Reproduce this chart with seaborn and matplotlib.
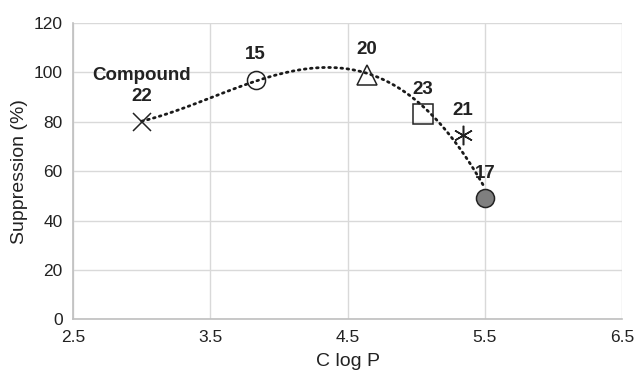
import matplotlib
matplotlib.use("Agg")
import matplotlib.pyplot as plt
import pandas as pd
import seaborn as sns

compounds = ["22", "15", "20", "23", "21", "17"]
clogp = [3.0, 3.83, 4.64, 5.05, 5.34, 5.50]
suppression = [80, 97, 99, 83, 74.5, 49]
labels = ["Compound\n22", "15", "20", "23", "21", "17"]

markers = ["x", "o", "^", "s", (6, 2, 0), "o"]
sizes = [13, 13, 15, 14, 14, 13]
faces = ["none", "none", "none", "none", "none", "#7f7f7f"]

x_ticks = [2.5, 3.5, 4.5, 5.5, 6.5]
y_ticks = [0, 20, 40, 60, 80, 100, 120]

df = pd.DataFrame({"Compound": compounds, "ClogP": clogp, "Suppression": suppression})

sns.set_style("white")
plt.rcParams["font.family"] = ["Liberation Sans", "DejaVu Sans"]

fig, ax = plt.subplots(figsize=(6.35, 3.84), dpi=100)
fig.subplots_adjust(left=0.115, right=0.98, top=0.941, bottom=0.168)

# smooth dotted trend through the compounds
sns.regplot(data=df, x="ClogP", y="Suppression", order=3, ci=None, scatter=False,
            ax=ax, line_kws={"color": "#1a1a1a", "lw": 2, "ls": (0, (0.6, 1.6)),
                             "dash_capstyle": "round", "zorder": 2})

for i, row in df.iterrows():
    ax.plot(row["ClogP"], row["Suppression"], marker=markers[i], ms=sizes[i],
            mfc=faces[i], mec="#222222", mew=1.1, ls="none", zorder=3)
    ax.annotate(labels[i], (row["ClogP"], row["Suppression"]), xytext=(0, 12),
                textcoords="offset points", ha="center", va="bottom",
                fontsize=13.5, fontweight="bold", color="#222222",
                linespacing=1.3)

ax.set_xlim(2.5, 6.5)
ax.set_ylim(0, 120)
ax.set_xticks(x_ticks)
ax.set_yticks(y_ticks)
ax.set_xticklabels([f"{t:.1f}" for t in x_ticks])
ax.grid(True, color="#d9d9d9", lw=1)
for s in ["top", "right"]:
    ax.spines[s].set_visible(False)
for s in ["left", "bottom"]:
    ax.spines[s].set_color("#bfbfbf")
    ax.spines[s].set_linewidth(1.2)
ax.tick_params(axis="both", length=4, color="#bfbfbf", labelsize=12.5, labelcolor="#222222")
ax.set_xlabel("C log P", fontsize=14, color="#222222", labelpad=6)
ax.set_ylabel("Suppression (%)", fontsize=14, color="#222222", labelpad=4)

fig.savefig("out.png", dpi=100)
